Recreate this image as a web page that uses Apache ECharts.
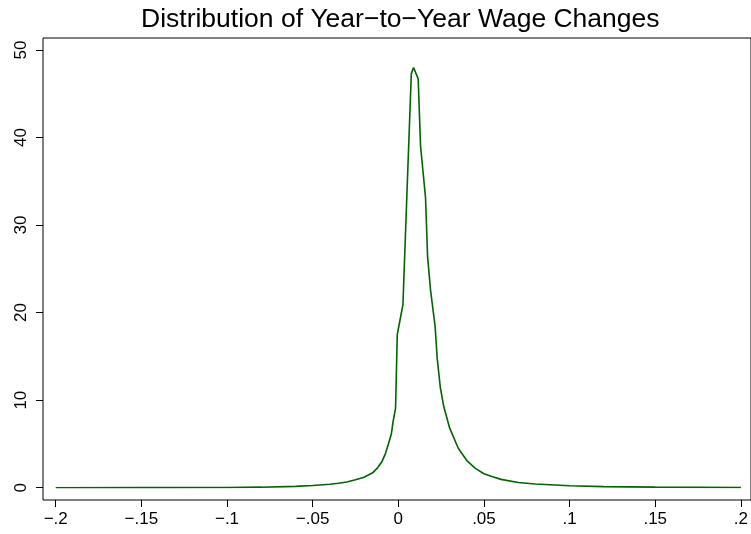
<!DOCTYPE html>
<html>
<head>
<meta charset="utf-8">
<script src="https://cdn.jsdelivr.net/npm/echarts@6/dist/echarts.min.js"></script>
<style>
html,body{margin:0;padding:0;background:#fff;}
#chart{width:751px;height:534px;}
</style>
</head>
<body>
<div id="chart"></div>
<script>
// Wage change (x) and density (y)
const wageChange = [
  -0.2, -0.15, -0.1, -0.08, -0.06, -0.05, -0.04, -0.035, -0.03, -0.025,
  -0.02, -0.015, -0.012, -0.0095, -0.0075, -0.0056, -0.004, -0.0031, -0.0016, -0.0006,
  0.0027, 0.005, 0.0076, 0.0089, 0.0116, 0.013, 0.0159, 0.0171, 0.0188, 0.0215,
  0.0227, 0.0245, 0.0265, 0.03, 0.035, 0.04, 0.045, 0.05, 0.055, 0.06,
  0.07, 0.08, 0.1, 0.12, 0.15, 0.2
];
const density = [
  0.0, 0.01, 0.03, 0.06, 0.15, 0.25, 0.4, 0.5, 0.65, 0.9,
  1.2, 1.7, 2.3, 3.0, 3.9, 5.1, 6.2, 7.5, 9.1, 17.5,
  20.9, 33.4, 47.3, 48.0, 46.7, 39.0, 33.1, 26.4, 22.6, 18.4,
  14.8, 11.5, 9.3, 6.8, 4.5, 3.1, 2.2, 1.6, 1.25, 0.95,
  0.6, 0.42, 0.22, 0.12, 0.06, 0.02
];
const xTicks = [-0.2, -0.15, -0.1, -0.05, 0, 0.05, 0.1, 0.15, 0.2];
const yTicks = [0, 10, 20, 30, 40, 50];
const titleText = 'Distribution of Year\u2212to\u2212Year Wage Changes';

function fmt(v) {
  const r = Math.round(v * 100) / 100;
  if (r === 0) return '0';
  let s = String(Math.abs(r)).replace(/^0\./, '.');
  return (r < 0 ? '\u2212' : '') + s;
}

const points = wageChange.map((x, i) => [x, density[i]]);
const font = 'Liberation Sans, Arial, Helvetica, sans-serif';

const chart = echarts.init(document.getElementById('chart'), null, {renderer: 'canvas'});
chart.setOption({
  animation: false,
  backgroundColor: '#fff',
  title: {
    text: titleText,
    left: 136,
    top: 1,
    textStyle: {fontFamily: font, fontSize: 26.5, fontWeight: 'normal', color: '#000'}
  },
  grid: [
    {left: 55.7, right: 7.3, top: 50, bottom: 46.3, containLabel: false},
    {left: 43, right: -8, top: 38, bottom: 34, show: true, borderColor: '#000', borderWidth: 1, backgroundColor: 'transparent', z: 0}
  ],
  xAxis: [
    {
      type: 'value', gridIndex: 0,
      min: xTicks[0], max: xTicks[xTicks.length - 1], interval: 0.05,
      offset: 12.3,
      axisLine: {show: false, onZero: false},
      axisTick: {show: true, length: 7, lineStyle: {color: '#000', width: 1}},
      axisLabel: {show: true, margin: 11, color: '#000', fontFamily: font, fontSize: 17, formatter: fmt},
      splitLine: {show: false}
    },
    {type: 'value', gridIndex: 1, show: false, min: 0, max: 1}
  ],
  yAxis: [
    {
      type: 'value', gridIndex: 0,
      min: yTicks[0], max: yTicks[yTicks.length - 1], interval: 10,
      offset: 12.7,
      axisLine: {show: false, onZero: false},
      axisTick: {show: true, length: 7, lineStyle: {color: '#000', width: 1}},
      axisLabel: {show: true, margin: 13, rotate: 90, color: '#000', fontFamily: font, fontSize: 17, formatter: fmt},
      splitLine: {show: false}
    },
    {type: 'value', gridIndex: 1, show: false, min: 0, max: 1}
  ],
  series: [{
    type: 'line',
    xAxisIndex: 0, yAxisIndex: 0,
    data: points,
    showSymbol: false,
    symbol: 'none',
    smooth: false,
    lineStyle: {color: '#006400', width: 1.6},
    z: 3
  }]
});
</script>
</body>
</html>
